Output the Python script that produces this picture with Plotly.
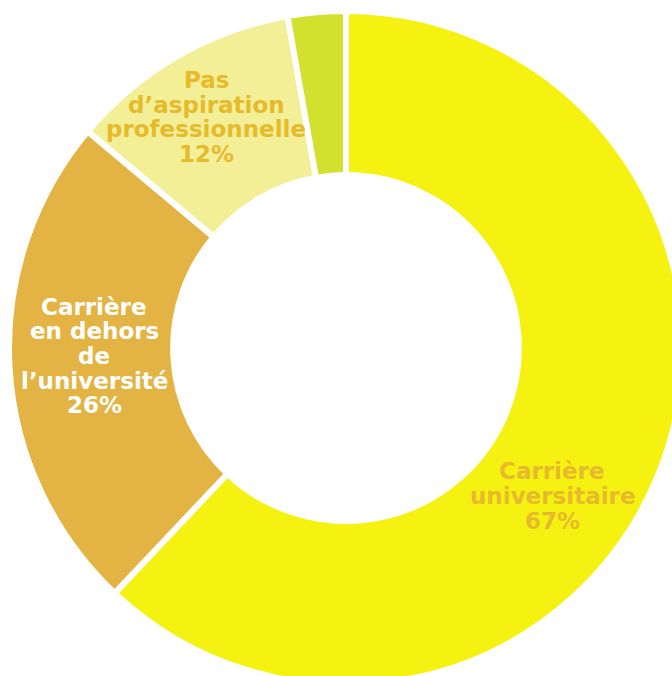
import plotly.graph_objects as go

# Career aspirations breakdown
categories = [
    "Carrière universitaire",
    "Carrière en dehors de l’université",
    "Pas d’aspiration professionnelle",
    "Autre",
]
label_lines = [
    ["Carrière", "universitaire"],
    ["Carrière", "en dehors", "de", "l’université"],
    ["Pas", "d’aspiration", "professionnelle"],
    [],
]
values = [67, 26, 12, 3]
colors = ["#F5F212", "#E3B443", "#F2EF97", "#D2E02E"]
label_colors = ["#E6BA2A", "#FFFFFF", "#E6BA2A", "#E6BA2A"]

# Figure geometry (pixels)
W, H = 683, 685
ML, MT = 9, 11
PW, PH = W - ML, H - MT

# Label block centres in pixels, and line spacing
label_centres = [(552, 496), (94, 356), (206, 117), None]
LINE_GAP = 24.7
FONT = dict(family="DejaVu Sans, sans-serif", size=23, weight="bold")

fig = go.Figure(
    go.Pie(
        labels=categories,
        values=values,
        textinfo="none",
        hole=0.513,
        sort=False,
        direction="clockwise",
        rotation=0,
        marker=dict(colors=colors, line=dict(color="#FFFFFF", width=6)),
        showlegend=False,
        hoverinfo="label+value",
    )
)

annotations = []
for lines, v, col, centre in zip(label_lines, values, label_colors, label_centres):
    if centre is None:
        continue
    rows = lines + [f"{v}%"]
    cx, cy = centre
    y0 = cy - LINE_GAP * (len(rows) - 1) / 2
    for i, row in enumerate(rows):
        py = y0 + i * LINE_GAP
        annotations.append(
            dict(
                text=row,
                x=(cx - ML) / PW,
                y=1 - (py - MT) / PH,
                xref="paper",
                yref="paper",
                xanchor="center",
                yanchor="middle",
                showarrow=False,
                font=dict(color=col, **FONT),
            )
        )

fig.update_layout(
    width=W,
    height=H,
    margin=dict(l=ML, t=MT, r=0, b=0, pad=0),
    paper_bgcolor="#FFFFFF",
    plot_bgcolor="#FFFFFF",
    annotations=annotations,
)

fig.write_html(
    "out.html",
    post_script="document.documentElement.style.overflow='hidden';document.body.style.overflow='hidden';document.body.style.margin='0';",
)
